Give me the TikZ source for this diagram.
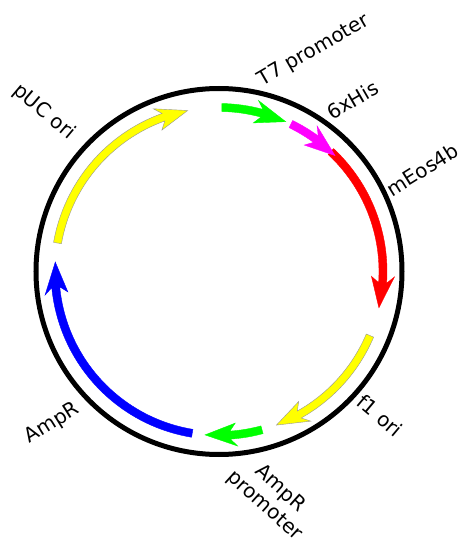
\documentclass[tikz,border=0pt]{standalone}
\usepackage{fontspec}
\setmainfont{DejaVu Sans}
\usepackage{xcolor}
\definecolor{edgegray}{RGB}{150,150,150}
\definecolor{featyellow}{RGB}{255,255,0}
\definecolor{featgreen}{RGB}{0,255,0}
\definecolor{featmagenta}{RGB}{255,0,255}
\definecolor{featred}{RGB}{255,0,0}
\definecolor{featblue}{RGB}{0,0,255}
% feature arrow on the plasmid: start angle, tip angle, fill, outline
\newcommand{\featarrow}[4]{%
  \filldraw[fill=#3, draw=#4, line width=0.4pt]
    (#1:168) arc[start angle=#1, end angle={#2+8.8}, radius=168]
    -- ({#2+11}:175.5) -- (#2:164) -- ({#2+11}:152.5) -- ({#2+8.8}:160)
    arc[start angle={#2+8.8}, end angle=#1, radius=160] -- cycle;}

\begin{document}
\begin{tikzpicture}[x=1pt, y=1pt,
    lbl/.style={font=\fontsize{20}{23}\selectfont, inner sep=0pt, align=center},
    backbone/.style={draw, line width=5pt},
  ]
  \useasboundingbox (-219,-274.5) rectangle (239,271.5);
  \coordinate (c) at (0,0);
  \draw[backbone] (c) circle[radius=183];

  \featarrow{170}{101}{featyellow}{edgegray}
  \featarrow{89}{66}{featgreen}{featgreen}
  \featarrow{47}{-12.8}{featred}{featred}
  \featarrow{64}{45}{featmagenta}{featmagenta}
  \featarrow{-23}{-69.5}{featyellow}{edgegray}
  \featarrow{-74.8}{-94.9}{featgreen}{featgreen}
  \featarrow{-99.4}{-183.3}{featblue}{featblue}

  \node[lbl, rotate=30] (t7) at (95,221) {T7 promoter};
  \node[lbl, rotate=30] (his) at (134,171.5) {6xHis};
  \node[lbl, rotate=32] (meos) at (203.5,102) {mEos4b};
  \node[lbl, rotate=-40] (puc) at (-175,159.5) {pUC ori};
  \node[lbl, rotate=-40] (fori) at (161,-144) {f1 ori};
  \node[lbl, rotate=32] (ampr) at (-166.5,-152) {AmpR};
  \node[lbl, rotate=-42] (amprp) at (53,-226) {AmpR\\promoter};
\end{tikzpicture}
\end{document}
